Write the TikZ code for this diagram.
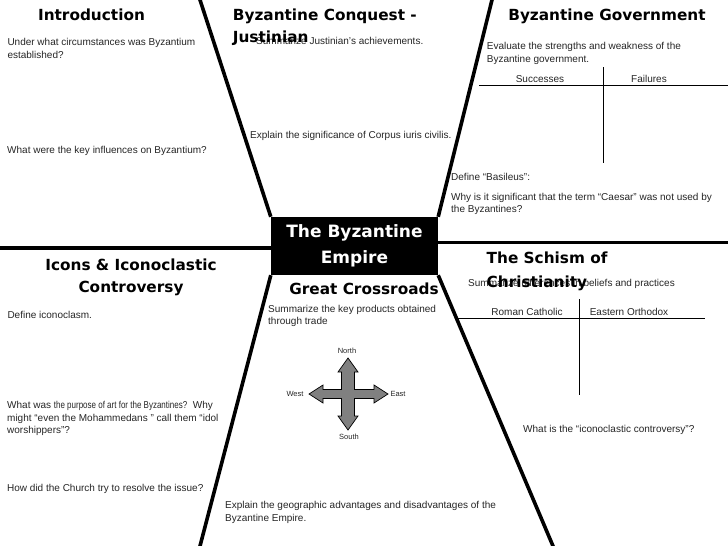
\documentclass[tikz,border=0pt]{standalone}
\usepackage{graphicx}
\usepackage{fontspec}
\setmainfont{Liberation Sans}
\newfontfamily\titlefont{DejaVu Sans}
\begin{document}
\begin{tikzpicture}[x=1pt,y=-1pt,
  body/.style={font=\fontsize{10}{12.3}\selectfont, inner sep=0pt, anchor=north west, align=left, text=black!85},
  colhead/.style={font=\fontsize{10}{12}\selectfont, inner sep=0pt, anchor=base, text=black!85},
  title/.style={font=\titlefont\bfseries\fontsize{15.3}{21.7}\selectfont, inner sep=0pt},
  compasslabel/.style={font=\fontsize{7.5}{9}\selectfont, inner sep=0pt, text=black!85},
  divider/.style={line width=3.6pt},
  tablerule/.style={line width=0.9pt}]
\useasboundingbox (0,0) rectangle (728,546);
\fill[white] (0,0) rectangle (728,546);

% central box
\node[fill=black, text=white, minimum width=167pt, minimum height=58pt, inner sep=0pt,
      font=\titlefont\bfseries\fontsize{17}{25.5}\selectfont, align=center]
      (box) at (354.5,246) {The Byzantine\\Empire};

% dividers
\coordinate (ulTop) at (198.4,-5);
\coordinate (urTop) at (493.2,-5);
\coordinate (llBot) at (198.7,551);
\coordinate (lrBot) at (555.1,551);
\coordinate (leftEnd) at (-3,248);
\coordinate (leftJoin) at (271,248);
\coordinate (rightJoin) at (438,242.5);
\coordinate (rightEnd) at (731,242.5);
\draw[divider] (ulTop) -- (box.north west);
\draw[divider] (urTop) -- (box.north east);
\draw[divider] (box.south west) -- (llBot);
\draw[divider] (box.south east) -- (lrBot);
\draw[divider] (leftEnd) -- (leftJoin);
\draw[divider] (rightJoin) -- (rightEnd);

% Introduction
\node[body] (q1) at (7.3,38.5) {Under what circumstances was Byzantium\\established?};
\node[body] (q2) at (7,146.5) {What were the key influences on Byzantium?};
\node[title, anchor=north] (tintro) at (91.5,9) {Introduction};

% Justinian
\node[body] (j1) at (256,37.3) {Summarize Justinian’s achievements.};
\node[body] (j2) at (250,131.3) {Explain the significance of Corpus iuris civilis.};
\node[title, anchor=north west, align=left] (tconq) at (232.7,9) {Byzantine Conquest -\\Justinian};

% Government
\node[title, anchor=north] (tgov) at (607,9) {Byzantine Government};
\node[body] (g1) at (486.7,42.3) {Evaluate the strengths and weakness of the\\Byzantine government.};
\node[colhead] (succ) at (540,82.9) {Successes};
\node[colhead] (fail) at (649,82.9) {Failures};
\coordinate (gh1) at (479,85);
\coordinate (gh2) at (729,85);
\coordinate (gv1) at (603,67);
\coordinate (gv2) at (603,163);
\draw[tablerule] (gh1) -- (gh2);
\draw[tablerule] (gv1) -- (gv2);
\node[body] (g2) at (451,173) {Define “Basileus”:};
\node[body] (g3) at (451,193) {Why is it significant that the term “Caesar” was not used by\\the Byzantines?};

% Icons
\node[title, anchor=north, align=center] (ticons) at (131,259) {Icons \& Iconoclastic\\Controversy};
\node[body] (i1) at (7.3,311.3) {Define iconoclasm.};
\node[body] (i2) at (7,401.3) {What was \scalebox{0.8}[1]{the purpose of art for the Byzantines?}\ \ Why\\might “even the Mohammedans ” call them “idol\\worshippers”?};
\node[body] (i3) at (7,483.6) {How did the Church try to resolve the issue?};

% Great Crossroads
\node[title, anchor=north] (tcross) at (364,282.3) {Great Crossroads};
\node[body] (c1) at (268,304.6) {Summarize the key products obtained\\through trade};
\node[body] (c2) at (225,501.3) {Explain the geographic advantages and disadvantages of the\\Byzantine Empire.};

% compass
\begin{scope}[shift={(348,394)}]
\draw[fill=black!50, line width=0.7pt, line join=miter]
  (0,-36) -- (10,-22) -- (6.5,-22) -- (6.5,-4.5) -- (26,-4.5) -- (26,-9) -- (40,0)
  -- (26,9) -- (26,4.5) -- (6.5,4.5) -- (6.5,22) -- (10,22) -- (0,36)
  -- (-10,22) -- (-6.5,22) -- (-6.5,4.5) -- (-25,4.5) -- (-25,9) -- (-39,0)
  -- (-25,-9) -- (-25,-4.5) -- (-6.5,-4.5) -- (-6.5,-22) -- (-10,-22) -- cycle;
\end{scope}
\node[compasslabel] (north) at (347,351) {North};
\node[compasslabel] (west) at (295,394) {West};
\node[compasslabel] (east) at (398,394) {East};
\node[compasslabel] (south) at (349,437) {South};

% Schism
\node[body] (s1) at (468,279) {Summarize differences in beliefs and practices};
\node[title, anchor=north west, align=left, font=\titlefont\bfseries\fontsize{15.3}{24}\selectfont] (tschism) at (486.5,252) {The Schism of\\Christianity};
\node[colhead] (rc) at (527,315.3) {Roman Catholic};
\node[colhead] (eo) at (629,315.3) {Eastern Orthodox};
\coordinate (sh1) at (457,318);
\coordinate (sh2) at (705,318);
\coordinate (sv1) at (579,299);
\coordinate (sv2) at (579,395);
\draw[tablerule] (sh1) -- (sh2);
\draw[tablerule] (sv1) -- (sv2);
\node[body] (s2) at (523,424.6) {What is the “iconoclastic controversy”?};
\end{tikzpicture}
\end{document}
